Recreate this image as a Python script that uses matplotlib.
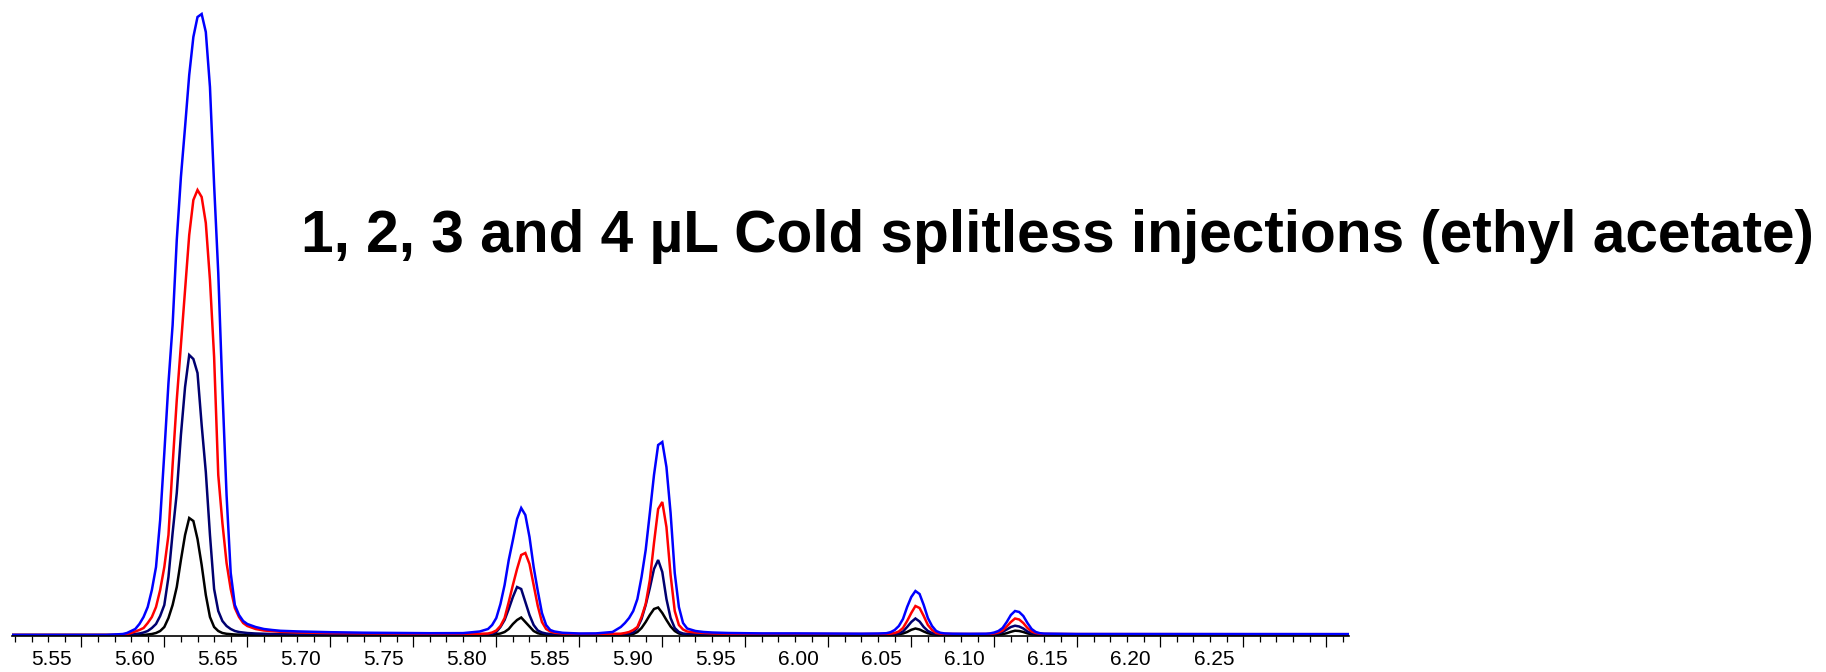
import matplotlib
matplotlib.use("Agg")
import matplotlib.pyplot as plt
import matplotlib.transforms as mtransforms
import numpy as np

# retention time grid (min), shared by all four runs
rt = [
    # baseline before the solvent-side peak
    5.508, 5.530, 5.550, 5.565, 5.570, 5.575,
    # peak 1
    5.5775, 5.580, 5.5825, 5.585, 5.5875, 5.590, 5.5925, 5.595, 5.5975, 5.600,
    5.6025, 5.605, 5.6075, 5.610, 5.6125, 5.615, 5.6175, 5.620, 5.6225, 5.625,
    5.6275, 5.630, 5.6325, 5.635, 5.6375, 5.640, 5.6425, 5.645, 5.6475, 5.650,
    5.655, 5.660, 5.665,
    # tail
    5.670, 5.680, 5.690, 5.700, 5.720, 5.740, 5.760, 5.780, 5.790,
    # peak 2
    5.795, 5.7975, 5.800, 5.8025, 5.805, 5.8075, 5.810, 5.8125, 5.815, 5.8175,
    5.820, 5.8225, 5.825, 5.8275, 5.830, 5.8325, 5.835, 5.840,
    5.845, 5.850, 5.860, 5.870,
    # peak 3
    5.875, 5.8775, 5.880, 5.8825, 5.885, 5.8875, 5.890, 5.8925, 5.895, 5.8975,
    5.900, 5.9025, 5.905, 5.9075, 5.910, 5.9125, 5.915, 5.920, 5.925, 5.930,
    5.940, 5.950, 5.960, 5.980, 6.000, 6.020, 6.030,
    # peak 4
    6.035, 6.0375, 6.040, 6.0425, 6.045, 6.0475, 6.050, 6.0525, 6.055, 6.0575,
    6.060, 6.0625, 6.065, 6.0675, 6.070, 6.075,
    6.080, 6.085, 6.090,
    # peak 5
    6.095, 6.0975, 6.100, 6.1025, 6.105, 6.1075, 6.110, 6.1125, 6.115, 6.1175,
    6.120, 6.1225, 6.125, 6.1275, 6.130,
    6.140, 6.150, 6.200, 6.250, 6.300, 6.3134,
]

# abundance for each injection volume
abund_4ul = [
    0, 0, 0, 0, 0.5, 1,
    2, 4, 6, 11, 18, 28, 45, 68, 115, 182, 252, 310, 395, 458, 508, 560, 598,
    618, 621, 603, 548, 450, 362, 245, 140, 62, 30, 20, 14, 11, 8, 6, 5,
    4.2, 3.6, 3.2, 2.8, 2.3, 2.0, 1.8, 1.9, 3.5,
    6, 10, 17, 31, 50, 75, 95, 116, 127, 120, 98, 68, 44, 22, 10, 5, 3.5, 2.2,
    1.8, 1.5, 1.6, 3,
    8, 12, 17, 24, 36, 58, 85, 122, 160, 190, 193, 168, 122, 62, 28, 12, 6.5,
    4, 3, 2.5,
    2, 1.8, 1.6, 1.6, 1.4, 1.3, 1.5,
    1.8, 2.8, 5, 9, 16, 28, 38, 44, 41, 30, 17, 9, 4, 2.2, 1.6, 1.3,
    1.2, 1.2, 1.3,
    1.3, 1.6, 2.5, 4, 7, 13, 20, 24, 23, 19, 12, 6, 3, 1.8, 1.4,
    1.2, 1.0, 1.0, 0.9, 0.9, 0.9,
]

abund_3ul = [
    0, 0, 0, 0, 0, 0.5,
    1, 2, 3.5, 5, 7, 12, 18, 28, 45, 68, 100, 170, 235, 290, 345, 400, 435,
    445, 438, 412, 355, 278, 160, 112, 72, 46, 27, 18, 12, 9, 6, 4.5, 3.8,
    3.2, 2.6, 2.2, 1.9, 1.6, 1.4, 1.2, 1.1, 1.2,
    1.5, 2.5, 4.5, 9, 17, 33, 50, 66, 80, 82, 71, 50, 29, 13, 6, 3.5, 2.3, 1.5,
    1.2, 1.0, 1.0, 1.2,
    1.3, 2, 3, 5, 8, 18, 31, 55, 92, 126, 133, 108, 60, 24, 10, 5.5, 3.5,
    2.5, 2, 1.6,
    1.3, 1.2, 1.1, 1.1, 1.0, 1.0, 1.0,
    1, 1.3, 2, 3.5, 7, 14, 22, 29, 27, 19, 10, 5, 2, 1.3, 1.1, 1,
    1, 1, 1,
    1, 1.2, 1.6, 2.5, 4.5, 8.5, 13, 16.5, 15.5, 12, 7, 3.5, 2, 1.3, 1.1,
    1, 0.9, 0.8, 0.8, 0.8, 0.8,
]

abund_2ul = [
    0, 0, 0, 0, 0, 0,
    0, 0.5, 1, 1.5, 2.5, 4, 7, 11, 19, 30, 58, 102, 142, 200, 248, 280, 276,
    262, 210, 163, 100, 46, 24, 14, 9, 6, 4, 3, 2.5, 2, 1.5, 1.2, 1,
    0.8, 0.6, 0.5, 0.5, 0.5, 0.5, 0.5, 0.5, 0.5,
    0.6, 1.2, 3, 8, 15, 26, 38, 48, 46, 33, 20, 10, 4.5, 2.5, 1.5, 1, 0.8, 0.6,
    0.5, 0.5, 0.5, 0.5,
    0.6, 0.9, 1.5, 2.5, 7, 16, 30, 47, 66, 75, 63, 36, 17, 7, 3, 1.5, 1,
    0.7, 0.6, 0.5,
    0.5, 0.5, 0.5, 0.5, 0.5, 0.5, 0.5,
    0.5, 0.6, 0.9, 1.6, 3.5, 8, 13, 16.5, 13.5, 8, 4, 2, 1, 0.7, 0.6, 0.5,
    0.5, 0.5, 0.5,
    0.5, 0.6, 0.9, 1.5, 3, 5.5, 8, 9.3, 8.5, 6.5, 3.5, 1.8, 1, 0.7, 0.6,
    0.5, 0.5, 0.5, 0.5, 0.5, 0.5,
]

abund_1ul = [
    0, 0, 0, 0, 0, 0,
    0, 0, 0, 0, 0, 0.5, 1, 2, 4, 8, 17, 30, 48, 75, 100, 117, 114,
    96, 70, 40, 18, 8, 4, 2, 1.2, 0.8, 0.5, 0.3, 0.2, 0.2, 0.1, 0.1, 0.1,
    0, 0, 0, 0, 0, 0, 0, 0, 0,
    0, 0, 0.8, 1.5, 3, 6, 11, 15, 17.5, 13, 8.5, 4, 1.8, 0.8, 0.3, 0, 0, 0,
    0, 0, 0, 0,
    0, 0, 0.3, 1, 3, 7, 13, 20, 26, 27.5, 22, 15, 8.5, 4, 1.5, 0.6, 0.3,
    0, 0, 0,
    0, 0, 0, 0, 0, 0, 0,
    0, 0, 0.3, 0.8, 1.5, 3, 5.2, 6.5, 5.5, 3.5, 1.8, 0.8, 0.3, 0, 0, 0,
    0, 0, 0,
    0, 0, 0, 0.3, 0.8, 1.8, 3.2, 4.3, 4, 3, 1.6, 0.7, 0.3, 0, 0,
    0, 0, 0, 0, 0, 0,
]

traces = [
    (abund_1ul, "black"),
    (abund_2ul, "#000070"),
    (abund_3ul, "#ff0000"),
    (abund_4ul, "#0000ff"),
]

major_ticks = [5.55, 5.60, 5.65, 5.70, 5.75, 5.80, 5.85, 5.90, 5.95, 6.00,
               6.05, 6.10, 6.15, 6.20, 6.25, 6.30]
major_labels = ["5.55", "5.60", "5.65", "5.70", "5.75", "5.80", "5.85", "5.90",
                "5.95", "6.00", "6.05", "6.10", "6.15", "6.20", "6.25", ""]

title = "1, 2, 3 and 4 \u00b5L Cold splitless injections (ethyl acetate)"

for y, _ in traces:
    assert len(y) == len(rt)

plt.rcParams["font.family"] = ["Liberation Sans", "DejaVu Sans"]

W, H, DPI = 1826, 672, 100
fig = plt.figure(figsize=(W / DPI, H / DPI), dpi=DPI)
ax = fig.add_axes([11.6 / W, 36 / H, (1348.5 - 11.6) / W, (H - 36) / H])

x = np.array(rt)
for y, color in traces:
    ax.plot(x, np.array(y), color=color, lw=1.8, solid_joinstyle="miter")

ax.set_xlim(5.508, 6.3134)
ax.set_ylim(-1, 635)

for side in ("left", "right", "top"):
    ax.spines[side].set_visible(False)
ax.spines["bottom"].set_linewidth(1.2)
ax.set_yticks([])

ax.set_xticks(major_ticks)
ax.set_xticklabels(major_labels, fontsize=15)
ax.set_xticks(np.round(np.arange(5.51, 6.315, 0.01), 2), minor=True)
ax.tick_params(axis="x", which="major", length=7.7, width=0.9, pad=2.5)
ax.tick_params(axis="x", which="minor", length=4.1, width=0.9)

# tick labels sit to the left of their tick marks
shift = mtransforms.ScaledTranslation(-29.5 / DPI, 0, fig.dpi_scale_trans)
for lbl in ax.get_xticklabels():
    lbl.set_transform(lbl.get_transform() + shift)

fig.text(301 / W, 1 - 252 / H, title, fontsize=42.2, fontweight="bold",
         ha="left", va="baseline")

fig.savefig("out.png", dpi=DPI)
